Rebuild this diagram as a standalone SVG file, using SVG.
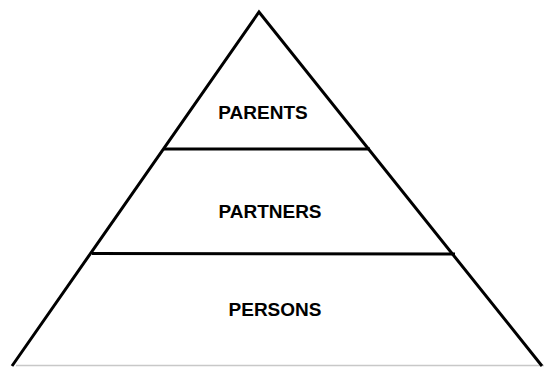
<svg xmlns="http://www.w3.org/2000/svg" width="544" height="367" viewBox="0 0 544 367">
<style>
.edge{stroke:#000;stroke-width:3;fill:none;stroke-linecap:butt}
.lbl{font-family:"Liberation Sans",Arial,sans-serif;font-weight:bold;font-size:19px;fill:#000;text-anchor:middle}
</style>
<rect width="544" height="367" fill="#fff"/>
<line x1="16" y1="365.5" x2="544" y2="365.5" stroke="#c8c8c8" stroke-width="1.5"/>
<g id="connectors">
<polyline class="edge" points="12,366 259,12 542,366"/>
<line class="edge" x1="164" y1="149" x2="370" y2="149"/>
<line class="edge" x1="92" y1="253.5" x2="455" y2="254"/>
</g>
<g id="parents"><text class="lbl" x="263" y="119">PARENTS</text></g>
<g id="partners"><text class="lbl" x="270" y="218">PARTNERS</text></g>
<g id="persons"><text class="lbl" x="275" y="316">PERSONS</text></g>
</svg>
